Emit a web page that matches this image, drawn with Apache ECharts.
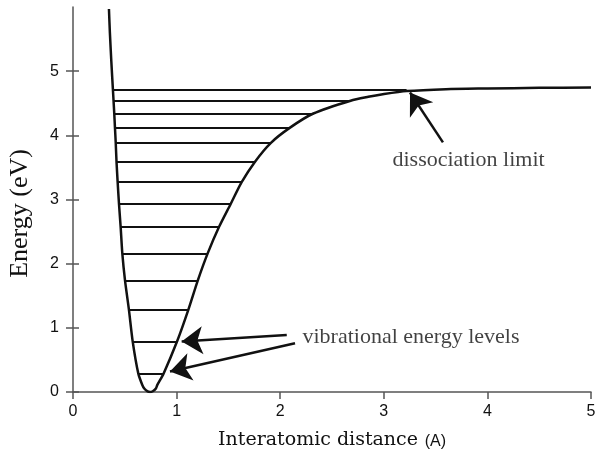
<!DOCTYPE html>
<html><head><meta charset="utf-8">
<script src="https://cdn.jsdelivr.net/npm/echarts@6/dist/echarts.min.js"></script>
<style>html,body{margin:0;padding:0;background:#fff}#c{width:602px;height:470px}</style>
</head><body><div id="c"></div>
<script>
// Potential energy curve (r in Å, E in eV)
const curveR = [0.347,0.356,0.370,0.385,0.398,0.405,0.412,0.420,0.431,0.444,0.460,0.476,0.502,0.540,0.576,0.630,0.669,0.690,0.720,0.743,0.770,0.800,0.814,0.875,1.005,1.113,1.205,1.300,1.409,1.522,1.628,1.757,1.908,2.095,2.320,2.680,2.850,2.990,3.220,3.600,4.000,4.500,5.000];
const curveE = [5.97,5.60,5.15,4.72,4.35,4.12,3.90,3.59,3.27,2.93,2.57,2.16,1.74,1.28,0.79,0.29,0.11,0.05,0.01,0.00,0.012,0.055,0.11,0.29,0.79,1.28,1.74,2.16,2.57,2.93,3.27,3.59,3.88,4.12,4.34,4.54,4.60,4.64,4.69,4.72,4.73,4.74,4.745];
// Vibrational energy levels
const levelE     = [4.71,4.54,4.34,4.12,3.88,3.59,3.27,2.93,2.57,2.16,1.74,1.28,0.79,0.29];
const levelLeft  = [0.385,0.390,0.398,0.405,0.412,0.420,0.431,0.444,0.460,0.476,0.502,0.540,0.576,0.630];
const levelRight = [3.220,2.680,2.320,2.095,1.908,1.757,1.628,1.522,1.409,1.300,1.205,1.113,1.005,0.875];
// Annotation arrows: tail -> head
const arrowTail = [[3.571,3.891],[2.063,0.890],[2.143,0.761]];
const arrowHead = [[3.253,4.668],[1.049,0.786],[0.936,0.320]];
// Annotation texts and anchors (left edge, vertical middle)
const noteText = ['dissociation limit','vibrational energy levels'];
const noteAt   = [[3.079,3.607],[2.21,0.859]];
const xTicks = [0,1,2,3,4,5];
const yTicks = [0,1,2,3,4,5];

const chart = echarts.init(document.getElementById('c'), null, {renderer:'canvas'});
const axisCol = '#555';
const tickFont = {fontFamily:'Liberation Sans, Arial, sans-serif', fontSize:16, color:'#111'};
chart.setOption({
  animation:false,
  backgroundColor:'#fff',
  grid:{left:73,right:11,top:7,bottom:78,containLabel:false,outerBoundsMode:'none'},
  xAxis:{type:'value',min:0,max:5,interval:1,
    axisLine:{lineStyle:{color:axisCol,width:1.5}},
    axisTick:{show:true,length:7,lineStyle:{color:axisCol,width:1.5},customValues:xTicks},
    axisLabel:Object.assign({margin:12,customValues:xTicks},tickFont),
    splitLine:{show:false},
    name:'{a|Interatomic distance}  {b|(A)}',nameLocation:'middle',nameGap:39,
    nameTextStyle:{rich:{
      a:{fontFamily:'DejaVu Serif, serif',fontSize:19,color:'#111'},
      b:{fontFamily:'Liberation Sans, sans-serif',fontSize:16,color:'#111',padding:[3,0,0,0]}}}
  },
  yAxis:[{type:'value',min:0,max:6,interval:1,
    axisLine:{show:true,lineStyle:{color:axisCol,width:1.5}},
    axisTick:{show:true,length:7,lineStyle:{color:axisCol,width:1.5},customValues:yTicks},
    axisLabel:Object.assign({margin:14,customValues:yTicks},tickFont),
    splitLine:{show:false},
    name:'Energy (eV)',nameLocation:'middle',nameGap:40,
    nameTextStyle:{fontFamily:'Liberation Serif, Times New Roman, serif',fontSize:26,color:'#111',padding:[0,0,0,-28]}
  },{type:'value',min:0,max:6,interval:1,position:'left',
    axisLine:{show:false},
    axisTick:{show:true,inside:true,length:6,lineStyle:{color:axisCol,width:1.5},customValues:yTicks},
    axisLabel:{show:false},splitLine:{show:false}
  }],
  series:[
    {type:'line',data:curveR.map((r,i)=>[r,curveE[i]]),smooth:0.25,showSymbol:false,
     lineStyle:{color:'#111',width:2.5},silent:true,z:3},
    {type:'lines',coordinateSystem:'cartesian2d',silent:true,z:2,
     data:levelE.map((e,i)=>({coords:[[levelLeft[i],e],[levelRight[i],e]]})),
     lineStyle:{color:'#111',width:2,opacity:1}},
    {type:'lines',coordinateSystem:'cartesian2d',silent:true,z:4,
     symbol:['none','arrow'],symbolSize:[15,21],
     data:arrowTail.map((t,i)=>({coords:[t,arrowHead[i]]})),
     lineStyle:{color:'#111',width:2.5,opacity:1}},
    {type:'scatter',silent:true,symbolSize:1,itemStyle:{color:'transparent'},z:5,
     data:noteAt.map((p,i)=>({value:p,name:noteText[i]})),
     label:{show:true,position:'right',distance:0,formatter:p=>p.name,
       fontFamily:'Liberation Serif, Times New Roman, serif',fontSize:22,color:'#111'}}
  ]
});
</script></body></html>
